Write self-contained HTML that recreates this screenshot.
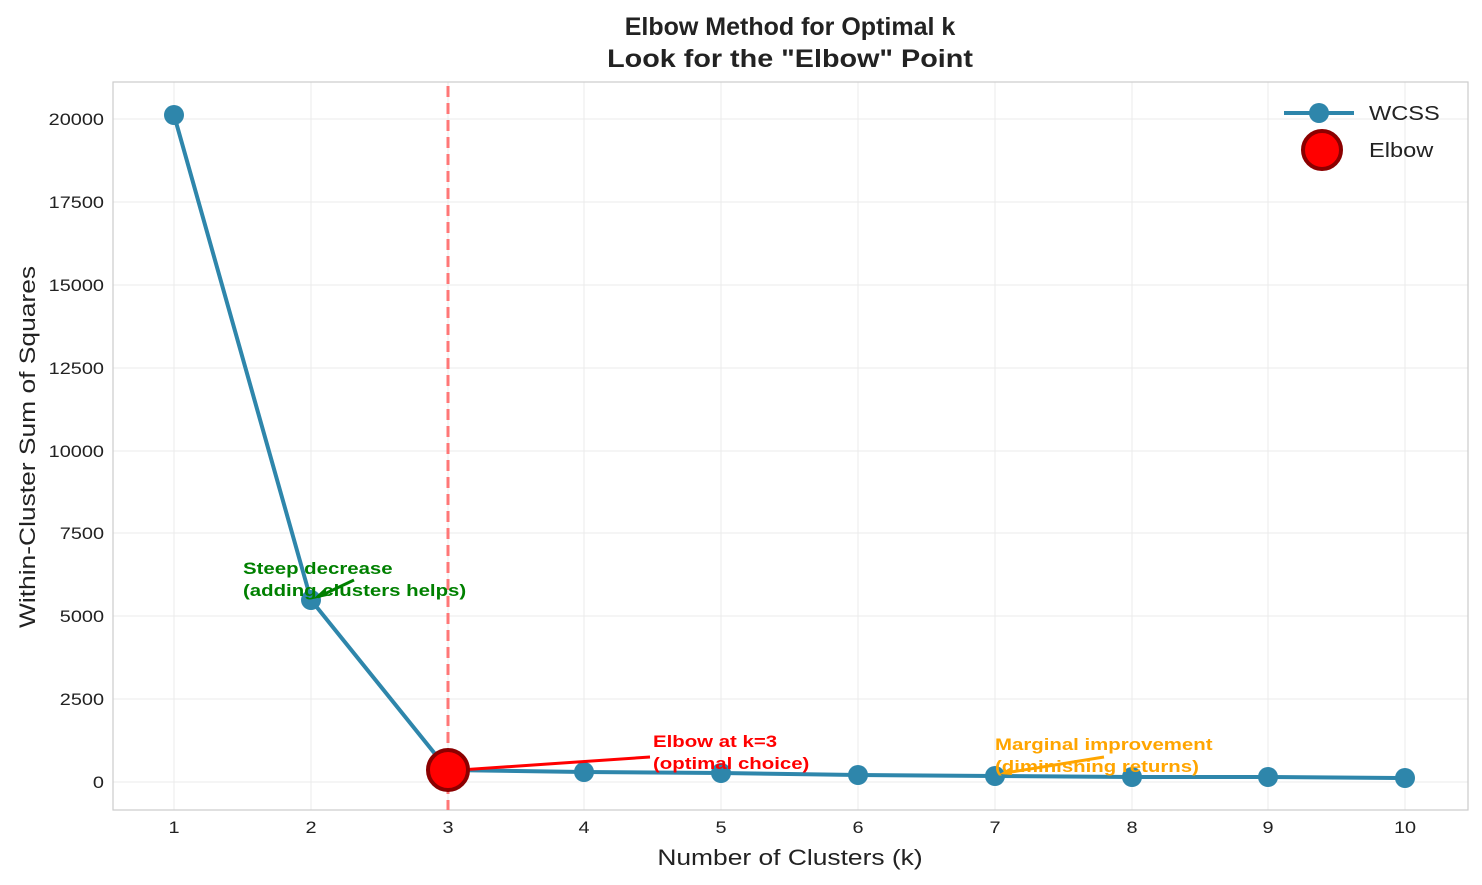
<!DOCTYPE html>
<html><head><meta charset="utf-8"><style>body{margin:0;background:#fff}svg{display:block}text{font-family:"Liberation Sans",Arial,sans-serif}</style></head>
<body>
<svg width="1482" height="885" xmlns="http://www.w3.org/2000/svg">
<rect width="1482" height="885" fill="#fff"/>
<g stroke="#ebebeb" stroke-width="1">
<line x1="174" y1="82" x2="174" y2="810"/><line x1="311" y1="82" x2="311" y2="810"/><line x1="448" y1="82" x2="448" y2="810"/><line x1="584" y1="82" x2="584" y2="810"/><line x1="721" y1="82" x2="721" y2="810"/><line x1="858" y1="82" x2="858" y2="810"/><line x1="995" y1="82" x2="995" y2="810"/><line x1="1132" y1="82" x2="1132" y2="810"/><line x1="1268" y1="82" x2="1268" y2="810"/><line x1="1405" y1="82" x2="1405" y2="810"/>
<line x1="113" y1="782" x2="1468" y2="782"/><line x1="113" y1="699" x2="1468" y2="699"/><line x1="113" y1="616" x2="1468" y2="616"/><line x1="113" y1="533" x2="1468" y2="533"/><line x1="113" y1="451" x2="1468" y2="451"/><line x1="113" y1="368" x2="1468" y2="368"/><line x1="113" y1="285" x2="1468" y2="285"/><line x1="113" y1="202" x2="1468" y2="202"/><line x1="113" y1="119" x2="1468" y2="119"/>
</g>
<rect x="113" y="82" width="1355" height="728" fill="none" stroke="#ccc" stroke-width="1.2"/>
<g font-size="17" fill="#222" text-anchor="middle">
<text transform="translate(174,833) scale(1.17,1)">1</text><text transform="translate(311,833) scale(1.17,1)">2</text><text transform="translate(448,833) scale(1.17,1)">3</text><text transform="translate(584,833) scale(1.17,1)">4</text><text transform="translate(721,833) scale(1.17,1)">5</text><text transform="translate(858,833) scale(1.17,1)">6</text><text transform="translate(995,833) scale(1.17,1)">7</text><text transform="translate(1132,833) scale(1.17,1)">8</text><text transform="translate(1268,833) scale(1.17,1)">9</text><text transform="translate(1405,833) scale(1.17,1)">10</text>
</g>
<g font-size="17" fill="#222" text-anchor="end">
<text transform="translate(104,788) scale(1.17,1)">0</text>
<text transform="translate(104,705) scale(1.17,1)">2500</text>
<text transform="translate(104,622) scale(1.17,1)">5000</text>
<text transform="translate(104,539) scale(1.17,1)">7500</text>
<text transform="translate(104,457) scale(1.17,1)">10000</text>
<text transform="translate(104,374) scale(1.17,1)">12500</text>
<text transform="translate(104,291) scale(1.17,1)">15000</text>
<text transform="translate(104,208) scale(1.17,1)">17500</text>
<text transform="translate(104,125) scale(1.17,1)">20000</text>
</g>
<text transform="translate(790,865) scale(1.2,1)" text-anchor="middle" font-size="22" fill="#222">Number of Clusters (k)</text>
<text transform="translate(35,447) rotate(-90) scale(1.2,1)" text-anchor="middle" font-size="22" fill="#222">Within-Cluster Sum of Squares</text>
<text x="790" y="35" text-anchor="middle" font-size="25" font-weight="bold" fill="#222">Elbow Method for Optimal k</text>
<text transform="translate(790,67) scale(1.15,1)" text-anchor="middle" font-size="25" font-weight="bold" fill="#222">Look for the "Elbow" Point</text>
<line x1="448" y1="86" x2="448" y2="810" stroke="#f77" stroke-width="3" stroke-dasharray="11,6"/>
<polyline points="174,115 311,600 448,770 584,772 721,773 858,775 995,776 1132,777 1268,777 1405,778" fill="none" stroke="#2e86ab" stroke-width="4"/>
<g fill="#2e86ab">
<circle cx="174" cy="115" r="10"/><circle cx="311" cy="600" r="10"/><circle cx="584" cy="772" r="10"/><circle cx="721" cy="773" r="10"/><circle cx="858" cy="775" r="10"/><circle cx="995" cy="776" r="10"/><circle cx="1132" cy="777" r="10"/><circle cx="1268" cy="777" r="10"/><circle cx="1405" cy="778" r="10"/>
</g>
<line x1="460" y1="770" x2="650" y2="757" stroke="red" stroke-width="3"/>
<circle cx="448" cy="770" r="20" fill="red" stroke="#8b0000" stroke-width="4"/>
<line x1="354" y1="580" x2="318" y2="597" stroke="green" stroke-width="3"/>
<polygon points="313,599 324,589 327,596" fill="green"/>
<line x1="1104" y1="757" x2="1005" y2="773" stroke="orange" stroke-width="3"/>
<polygon points="1000,774 1011,767 1012,775" fill="orange"/>
<g font-size="17" font-weight="bold">
<text transform="translate(243,574) scale(1.2,1)" fill="green">Steep decrease</text><text transform="translate(243,596) scale(1.2,1)" fill="green">(adding clusters helps)</text>
<text transform="translate(653,747) scale(1.2,1)" fill="red">Elbow at k=3</text><text transform="translate(653,769) scale(1.2,1)" fill="red">(optimal choice)</text>
<text transform="translate(995,750) scale(1.2,1)" fill="orange">Marginal improvement</text><text transform="translate(995,772) scale(1.2,1)" fill="orange">(diminishing returns)</text>
</g>
<line x1="1284" y1="113" x2="1354" y2="113" stroke="#2e86ab" stroke-width="4"/>
<circle cx="1319" cy="113" r="10" fill="#2e86ab"/>
<text transform="translate(1369,120) scale(1.18,1)" font-size="20" fill="#222">WCSS</text>
<circle cx="1322" cy="150" r="19" fill="red" stroke="#8b0000" stroke-width="4"/>
<text transform="translate(1369,157) scale(1.18,1)" font-size="20" fill="#222">Elbow</text>
</svg>
</body></html>
